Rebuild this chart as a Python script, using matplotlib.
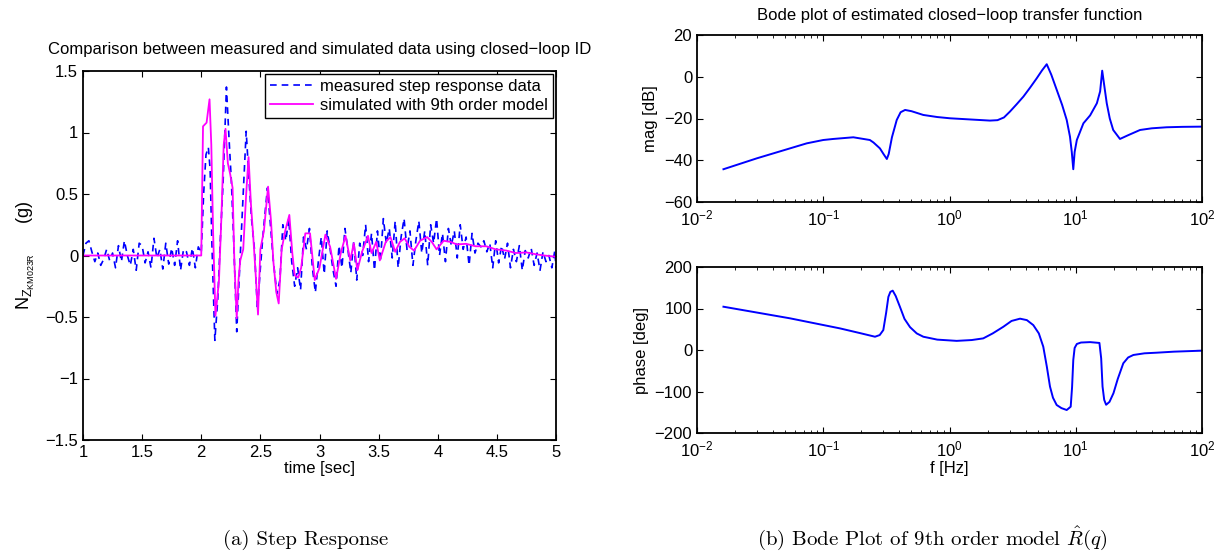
import numpy as np
import matplotlib
matplotlib.use('Agg')
import matplotlib.pyplot as plt

plt.rcParams['font.family'] = ['Liberation Sans', 'DejaVu Sans']
plt.rcParams['mathtext.fontset'] = 'custom'
plt.rcParams['mathtext.rm'] = 'Liberation Sans'
plt.rcParams['mathtext.it'] = 'Liberation Sans:italic'
plt.rcParams['axes.linewidth'] = 1.3

# ---- step response ----
t_pre = np.arange(40) * 0.025 + 1.0
n_pre = [0.0, 0.1, 0.12, 0.03, -0.05, 0.02, -0.08, -0.03, 0.05, -0.04,
         0.02, -0.1, 0.08, -0.05, 0.12, 0.0, -0.08, 0.05, -0.12, 0.1,
         0.08, -0.06, 0.03, -0.1, 0.14, -0.02, 0.05, -0.11, 0.1, -0.07,
         0.06, -0.08, 0.12, -0.12, 0.05, 0.03, -0.08, 0.06, -0.1, 0.07]
t_step = [2.0, 2.02, 2.04, 2.06, 2.075, 2.09, 2.115, 2.14, 2.16, 2.185,
          2.213, 2.235, 2.255, 2.275, 2.30, 2.32, 2.345, 2.38, 2.405, 2.425,
          2.45, 2.475, 2.5, 2.525, 2.56, 2.585, 2.61, 2.64, 2.665, 2.69,
          2.715, 2.74, 2.765, 2.79, 2.815, 2.84, 2.865, 2.89, 2.915, 2.94,
          2.965, 2.99, 3.015, 3.04, 3.065, 3.09, 3.115, 3.14, 3.165, 3.19,
          3.215, 3.24, 3.265, 3.29, 3.315, 3.34, 3.365, 3.39, 3.415, 3.44,
          3.465, 3.49, 3.515, 3.54, 3.565, 3.59, 3.615, 3.64, 3.665, 3.69,
          3.715, 3.74, 3.765, 3.79, 3.815, 3.84, 3.865, 3.89, 3.915, 3.94,
          3.965, 3.99, 4.015, 4.04, 4.065, 4.09, 4.115, 4.14, 4.165, 4.19,
          4.215, 4.24, 4.265, 4.29, 4.315, 4.34, 4.365, 4.39, 4.415, 4.44,
          4.465, 4.49, 4.515, 4.54, 4.565, 4.59, 4.615, 4.64, 4.665, 4.69,
          4.715, 4.74, 4.765, 4.79, 4.815, 4.84, 4.865, 4.89, 4.915, 4.94,
          4.965, 4.99, 5.0]
n_step = [0.02, 0.5, 0.82, 0.88, 0.7, 0.1, -0.69, -0.35, 0.1, 0.6,
          1.37, 0.95, 0.6, 0.1, -0.62, -0.2, 0.3, 1.01, 0.6, 0.3,
          0.05, -0.44, -0.1, 0.2, 0.55, 0.25, -0.05, -0.31, -0.2, 0.25,
          0.12, 0.3, -0.05, -0.25, -0.1, -0.28, 0.15, 0.05, 0.22, -0.1,
          -0.3, -0.05, 0.15, -0.15, 0.2, 0.05, -0.12, -0.25, 0.08, -0.1,
          0.22, 0.05, -0.14, 0.12, -0.2, 0.1, 0.0, 0.25, -0.05, 0.18,
          -0.12, 0.2, -0.05, 0.3, 0.1, 0.22, -0.02, 0.28, -0.1, 0.15,
          0.3, 0.05, 0.2, -0.08, 0.12, 0.28, 0.02, 0.2, -0.08, 0.25,
          0.1, 0.3, 0.0, 0.18, -0.05, 0.22, 0.08, 0.2, -0.02, 0.25,
          0.05, 0.15, -0.08, 0.18, 0.02, 0.1, 0.07, 0.12, 0.03, 0.1,
          -0.1, 0.12, -0.06, 0.08, -0.03, 0.1, -0.1, 0.05, -0.05, 0.08,
          -0.12, 0.04, -0.02, 0.06, -0.08, 0.02, -0.12, 0.03, -0.05, 0.0,
          -0.1, 0.04, -0.1]
t_meas = np.concatenate([t_pre, t_step])
n_meas = np.concatenate([n_pre, n_step])

t_sim = [1.0, 2.0, 2.015, 2.045, 2.07, 2.085, 2.10, 2.12, 2.135, 2.15,
         2.17, 2.19, 2.205, 2.225, 2.245, 2.265, 2.28, 2.30, 2.315, 2.33,
         2.355, 2.38, 2.40, 2.42, 2.44, 2.46, 2.48, 2.50, 2.53, 2.565,
         2.59, 2.61, 2.635, 2.655, 2.68, 2.71, 2.745, 2.77, 2.79, 2.82,
         2.845, 2.88, 2.92, 2.96, 3.0, 3.05, 3.09, 3.14, 3.18, 3.22,
         3.26, 3.29, 3.32, 3.36, 3.41, 3.44, 3.48, 3.51, 3.56, 3.6,
         3.64, 3.68, 3.72, 3.76, 3.80, 3.85, 3.91, 3.95, 3.99, 4.05,
         4.11, 4.16, 4.24, 4.32, 4.41, 4.49, 4.58, 4.66, 4.75, 4.83,
         4.9, 5.0]
n_sim = [0.0, 0.0, 1.05, 1.08, 1.27, 0.9, 0.2, -0.49, -0.35, -0.2,
         0.3, 0.9, 1.03, 0.75, 0.66, 0.55, -0.05, -0.51, -0.2, -0.04,
         0.05, 0.5, 0.80, 0.42, 0.15, -0.15, -0.48, 0.05, 0.2, 0.56,
         0.28, -0.05, -0.3, -0.39, 0.05, 0.2, 0.33, 0.02, -0.16, -0.18,
         -0.1, 0.18, 0.18, -0.2, -0.1, 0.17, 0.07, -0.19, 0.02, 0.16,
         -0.04, 0.1, -0.12, 0.03, 0.16, 0.02, 0.11, -0.04, 0.11, 0.15,
         0.03, 0.11, 0.14, 0.07, 0.04, 0.12, 0.15, 0.11, 0.05, 0.12,
         0.11, 0.09, 0.095, 0.075, 0.075, 0.05, 0.04, 0.02, 0.025, 0.01,
         0.0, -0.01]

# ---- Bode plot ----
f_mag = [0.0162, 0.0297, 0.0546, 0.074, 0.1, 0.12, 0.173, 0.234, 0.25, 0.281,
         0.30, 0.319, 0.33, 0.35, 0.382, 0.41, 0.445, 0.5, 0.62, 0.8,
         1.01, 1.5, 2.09, 2.4, 2.7, 3.01, 3.4, 3.85, 4.35, 4.9,
         5.4, 5.89, 6.4, 7.07, 7.8, 8.48, 9.0, 9.3, 9.56, 9.8,
         10.2, 11.5, 13.0, 14.7, 15.6, 16.2, 16.8, 17.6, 18.6, 19.8,
         22.4, 26.0, 32.3, 40.0, 52.5, 70.0, 100]
mag_db = [-44.3, -39.1, -34.3, -31.9, -30.3, -29.8, -29.0, -30.3, -31.5, -34.3,
          -37.0, -39.4, -37.0, -29.0, -20.7, -17.0, -15.9, -16.5, -18.3, -19.3,
          -19.9, -20.5, -21.0, -20.8, -19.5, -16.7, -13.2, -9.5, -5.2, -0.8,
          3.0, 6.0, 1.0, -6.3, -13.5, -20.7, -28.7, -36.0, -44.3, -36.0,
          -30.3, -22.3, -18.5, -12.7, -7.0, 2.9, -4.0, -12.7, -20.0, -25.5,
          -29.8, -28.0, -25.5, -24.7, -24.2, -24.0, -23.9]
f_ph = [0.0162, 0.0546, 0.136, 0.2, 0.257, 0.28, 0.299, 0.315, 0.328, 0.34,
        0.355, 0.375, 0.405, 0.44, 0.487, 0.55, 0.62, 0.8, 1.14, 1.5,
        1.85, 2.2, 2.67, 3.1, 3.62, 4.1, 4.61, 5.1, 5.53, 5.9,
        6.25, 6.6, 7.06, 7.7, 8.48, 9.12, 9.35, 9.56, 9.8, 10.2,
        11.0, 13.0, 15.4, 15.9, 16.3, 16.8, 17.4, 18.5, 19.9, 21.5,
        23.8, 26.0, 28.6, 35.0, 43.7, 60.0, 100]
phase_deg = [104.3, 76.3, 52.0, 40.0, 32.0, 36.0, 48.0, 90.0, 128.0, 140.0,
             143.0, 130.0, 104.0, 75.0, 55.0, 40.0, 32.0, 25.0, 22.0, 24.0,
             28.0, 40.0, 56.0, 70.0, 75.5, 72.0, 60.0, 40.0, 8.0, -40.0,
             -88.0, -115.0, -132.5, -140.0, -144.6, -136.6, -90.0, -24.0, 5.0, 14.5,
             18.0, 19.0, 17.0, -20.0, -88.0, -120.0, -132.0, -125.0, -104.0, -70.0,
             -32.0, -18.0, -12.0, -8.0, -6.5, -4.0, -1.6]

fig = plt.figure(figsize=(12.25, 5.53), dpi=100)


def matlab_style(ax):
    ax.tick_params(direction='in', which='both', top=True, right=True,
                   labelsize=12, length=4)
    ax.tick_params(which='minor', length=2.5)


# left: step response
ax1 = fig.add_axes([83 / 1225, 1 - 440 / 553, 473 / 1225, 369 / 553])
ax1.plot(t_meas, n_meas, '--', color='#0000ff', lw=1.2, dashes=(4, 3),
         label='measured step response data')
ax1.plot(t_sim, n_sim, '-', color='#ff00ff', lw=1.3,
         label='simulated with 9th order model')
ax1.set_xlim(1, 5)
ax1.set_ylim(-1.5, 1.5)
ax1.set_xticks(np.arange(1, 5.01, 0.5))
ax1.set_xticklabels(['1', '1.5', '2', '2.5', '3', '3.5', '4', '4.5', '5'])
ax1.set_yticks(np.arange(-1.5, 1.51, 0.5))
ax1.set_yticklabels(['\u22121.5', '\u22121', '\u22120.5', '0', '0.5', '1', '1.5'])
matlab_style(ax1)
ax1.set_title('Comparison between measured and simulated data using closed\u2212loop ID',
              fontsize=12, pad=12)
ax1.set_xlabel('time [sec]', fontsize=12, labelpad=1)
ax1.set_ylabel(r'$\mathrm{N}_{\mathrm{Z}_{\mathrm{KM023R}}}$      (g)', fontsize=13, labelpad=6)
leg = ax1.legend(loc='upper right', fontsize=12, fancybox=False, framealpha=1,
                 edgecolor='black', borderaxespad=0.2, handlelength=2.6,
                 borderpad=0.3, labelspacing=0.2, handletextpad=0.4)
leg.get_frame().set_linewidth(1.0)

# right top: magnitude
ax2 = fig.add_axes([697 / 1225, 1 - 202 / 553, 505 / 1225, 167 / 553])
ax2.semilogx(f_mag, mag_db, color='#0000ff', lw=1.4)
ax2.set_xlim(1e-2, 1e2)
ax2.set_ylim(-60, 20)
ax2.set_yticks([-60, -40, -20, 0, 20])
ax2.set_yticklabels(['\u221260', '\u221240', '\u221220', '0', '20'])
matlab_style(ax2)
ax2.tick_params(axis='x', pad=5)
ax2.set_ylabel('mag [dB]', fontsize=12)
ax2.set_title('Bode plot of estimated closed\u2212loop transfer function',
              fontsize=12, pad=11)

# right bottom: phase
ax3 = fig.add_axes([697 / 1225, 1 - 433 / 553, 505 / 1225, 166 / 553])
ax3.semilogx(f_ph, phase_deg, color='#0000ff', lw=1.4)
ax3.set_xlim(1e-2, 1e2)
ax3.set_ylim(-200, 200)
ax3.set_yticks([-200, -100, 0, 100, 200])
ax3.set_yticklabels(['\u2212200', '\u2212100', '0', '100', '200'])
matlab_style(ax3)
ax3.tick_params(axis='x', pad=5)
ax3.set_ylabel('phase [deg]', fontsize=12)
ax3.set_xlabel('f [Hz]', fontsize=12, labelpad=1)

# captions
fig.text(306 / 1225, 1 - 545 / 553, '(a) Step Response', ha='center', va='baseline',
         fontsize=15, family=['cmr10', 'DejaVu Serif'], math_fontfamily='cm')
fig.text(932 / 1225, 1 - 545 / 553, r'(b) Bode Plot of 9th order model $\hat{R}(q)$',
         ha='center', va='baseline', fontsize=15, family=['cmr10', 'DejaVu Serif'],
         math_fontfamily='cm')

fig.savefig('out.png', dpi=100)
